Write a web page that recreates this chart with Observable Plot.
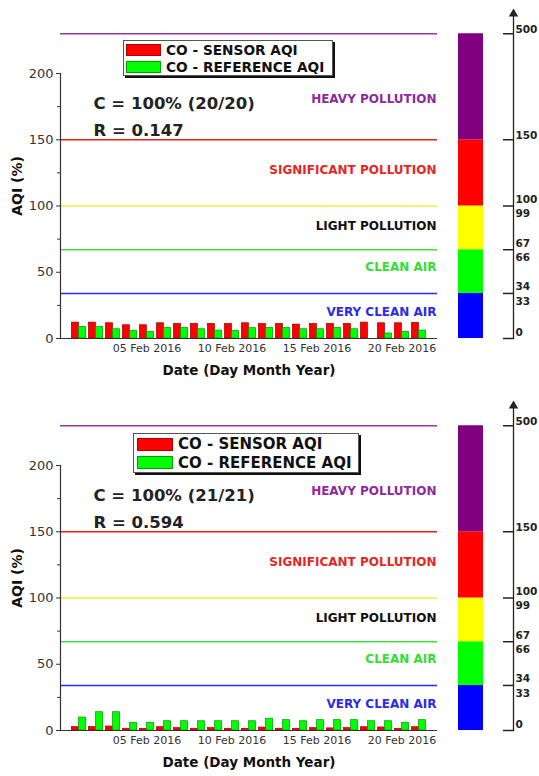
<!DOCTYPE html>
<html><head><meta charset="utf-8">
<script src="https://cdn.jsdelivr.net/npm/d3@7"></script>
<script src="https://cdn.jsdelivr.net/npm/@observablehq/plot@0.6"></script>
<style>
body{margin:0;background:#fff;font-family:"DejaVu Sans",sans-serif}
#root{position:relative;width:539px;height:776px;overflow:hidden;background:#fff}
.chart{position:absolute;left:0;width:539px;height:392px}
.main{position:absolute;left:0;top:0}
.side{position:absolute;left:450px;top:0}
.legend{position:absolute;box-sizing:border-box;background:#fff;border:1px solid #555;box-shadow:2px 2px 0 #111;font-weight:bold;color:#111}
.legend .row{display:flex;align-items:center;white-space:nowrap}
.legend .sw{display:inline-block;box-sizing:border-box}
</style></head><body><div id="root"></div>
<script>
// ---- data ----
const days = ["01 Feb 2016","02 Feb 2016","03 Feb 2016","04 Feb 2016","05 Feb 2016","06 Feb 2016","07 Feb 2016",
  "08 Feb 2016","09 Feb 2016","10 Feb 2016","11 Feb 2016","12 Feb 2016","13 Feb 2016","14 Feb 2016",
  "15 Feb 2016","16 Feb 2016","17 Feb 2016","18 Feb 2016","19 Feb 2016","20 Feb 2016","21 Feb 2016"];
const xTickLabels = ["05 Feb 2016","10 Feb 2016","15 Feb 2016","20 Feb 2016"];
const sensorAqi1 = [12.0,12.0,11.5,10.0,10.0,11.5,11.0,11.0,11.0,11.0,11.5,11.0,11.0,10.5,11.0,11.0,11.0,12.0,11.5,11.5,11.8];
const referenceAqi1 = [8.8,8.8,7.0,5.8,5.0,8.0,8.0,7.0,6.0,5.8,7.8,8.0,8.0,7.0,7.0,8.0,7.0,null,3.8,5.0,6.0];
const sensorAqi2 = [2.6,2.6,3.0,1.3,1.3,2.5,1.8,1.3,1.8,1.3,1.3,2.2,1.3,1.3,1.8,1.6,1.8,2.5,2.3,1.3,2.5];
const referenceAqi2 = [9.8,13.8,13.8,5.8,5.8,7.0,7.0,7.0,7.0,7.0,7.0,8.9,7.8,7.0,7.8,7.8,7.8,7.0,7.0,5.8,7.8];
const statsText1 = ["C = 100% (20/20)","R = 0.147"];
const statsText2 = ["C = 100% (21/21)","R = 0.594"];
const yTicks = [0,50,100,150,200];
const yMinorTicks = [25,75,125,175];
const bandLimits = [0,34,67,100,150,230];
const bandNames = ["VERY CLEAN AIR","CLEAN AIR","LIGHT POLLUTION","SIGNIFICANT POLLUTION","HEAVY POLLUTION"];
const bandLabelY = [20,54,85,127,181];
const bandFill = ["#0000ff","#00ff00","#ffff00","#ff0000","#800080"];
const bandLine = ["#2b2bf2","#3ce63c","#f0f03a","#ee1c1c","#9a34aa"];
const bandText = ["#2b2be8","#33dd33","#111111","#e62626","#8e2a9e"];
const aqiTickPos = [0,34,67,100,150,230];
const aqiLabelUpper = ["0","34","67","100","150","500"];
const aqiLabelLower = ["33","66","99"];
const legendLabels = ["CO - SENSOR AQI","CO - REFERENCE AQI"];
const legendColors = [["#ff0000","#b00000"],["#00ff00","#00a000"]];

// ---- drawing ----
const root = document.getElementById("root");
const FONT = "DejaVu Sans";

function drawChart(top, sensor, reference, stats, lg) {
  const W = 450, H = 392, mL = 60, mR = 13, mT = 73, mB = 54, pad = 0.525;
  const step = (W - mL - mR) / (days.length + 2 * pad);
  const sRows = days.map((day, i) => ({day, v: sensor[i]}));
  const rRows = days.map((day, i) => ({day, v: reference[i]})).filter(d => d.v != null);
  const levels = bandNames.map((name, i) => ({name, lo: bandLimits[i], hi: bandLimits[i + 1],
    fill: bandFill[i], line: bandLine[i], text: bandText[i], ly: bandLabelY[i]}));

  const wrap = document.createElement("div");
  wrap.className = "chart"; wrap.style.top = top + "px";
  root.appendChild(wrap);

  const main = Plot.plot({
    width: W, height: H, marginLeft: mL, marginRight: mR, marginTop: mT, marginBottom: mB,
    style: {fontFamily: FONT, fontSize: "11px", color: "#333", background: "transparent", overflow: "visible"},
    x: {type: "band", domain: days, paddingInner: 0, paddingOuter: pad},
    y: {domain: [0, 200]},
    color: {type: "identity"},
    marks: [
      Plot.ruleY(levels, {y: "hi", stroke: "line", strokeWidth: 1.6}),
      Plot.text(levels, {y: "ly", text: "name", fill: "text", frameAnchor: "right", textAnchor: "end",
        dx: -1, fontWeight: "bold", fontSize: 12}),
      Plot.barY(sRows, {x: "day", y: "v", fill: "#ff0000", stroke: "#a80000", strokeWidth: 0.7,
        insetLeft: 1.4, insetRight: step / 2}),
      Plot.barY(rRows, {x: "day", y: "v", fill: "#00ff00", stroke: "#009a00", strokeWidth: 0.7,
        insetLeft: step / 2, insetRight: 1.4}),
      Plot.ruleY([0], {stroke: "#333", strokeWidth: 1.2}),
      Plot.frame({anchor: "left", stroke: "#333", strokeWidth: 1.2}),
      Plot.axisY(yTicks, {tickSize: 4, tickPadding: 3, fontSize: 13, label: null, fill: "#333"}),
      Plot.axisY(yMinorTicks, {tickSize: 3, tickFormat: () => "", label: null}),
      Plot.axisX(xTickLabels, {tickSize: 0, tickPadding: 6, fontSize: 11, label: null, fill: "#333"}),
      Plot.text([stats.join("\n")], {text: d => d, frameAnchor: "top-left", dx: 33, dy: 40.5,
        lineAnchor: "middle", lineHeight: 1.64, fontSize: 16.5, fontWeight: "bold", fill: "#222"}),
      Plot.text(["AQI (%)"], {text: d => d, frameAnchor: "left", textAnchor: "middle", lineAnchor: "middle",
        rotate: -90, dx: -43, dy: -20, fontSize: 14, fontWeight: "bold", fill: "#111"}),
      Plot.text(["Date (Day Month Year)"], {text: d => d, frameAnchor: "bottom", lineAnchor: "middle",
        dy: 32, fontSize: 13.5, fontWeight: "bold", fill: "#111"})
    ]
  });
  main.classList.add("main");
  wrap.appendChild(main);

  const upperRows = aqiTickPos.map((v, i) => ({v, label: aqiLabelUpper[i]}));
  const lowerRows = aqiLabelLower.map((label, i) => ({v: aqiTickPos[i + 1], label}));
  const side = Plot.plot({
    width: 89, height: H, marginLeft: 8, marginRight: 56, marginTop: mT, marginBottom: mB,
    style: {fontFamily: FONT, fontSize: "10.5px", color: "#222", background: "transparent", overflow: "visible"},
    y: {domain: [0, 200], axis: null},
    color: {type: "identity"},
    marks: [
      Plot.rectY(levels, {y1: "lo", y2: "hi", fill: "fill"}),
      Plot.frame({anchor: "right", dx: 30, insetTop: -60, stroke: "#222", strokeWidth: 1.3}),
      Plot.dot([0], {frameAnchor: "top-right", dx: 30, dy: -59.6, symbol: "triangle", r: 3.5, fill: "#222", stroke: "none"}),
      Plot.tickY(aqiTickPos, {y: d => d, insetLeft: 15, dx: 30, stroke: "#222", strokeWidth: 1.5}),
      Plot.text(upperRows.slice(0, 4), {y: "v", text: "label", frameAnchor: "right", textAnchor: "start",
        lineAnchor: "bottom", dx: 32, dy: -3, fontWeight: "bold", fill: "#222"}),
      Plot.text(upperRows.slice(4), {y: "v", text: "label", frameAnchor: "right", textAnchor: "start",
        lineAnchor: "middle", dx: 32, dy: -4, fontWeight: "bold", fill: "#222"}),
      Plot.text(lowerRows, {y: "v", text: "label", frameAnchor: "right", textAnchor: "start",
        lineAnchor: "top", dx: 32, dy: 4, fontWeight: "bold", fill: "#222"})
    ]
  });
  side.classList.add("side");
  wrap.appendChild(side);

  // legend
  const box = document.createElement("div");
  box.className = "legend";
  Object.assign(box.style, {left: lg.left + "px", top: lg.top + "px", width: lg.width + "px",
    height: lg.height + "px", padding: lg.pad, fontSize: lg.font + "px"});
  legendLabels.forEach((label, i) => {
    const row = document.createElement("div");
    row.className = "row"; row.style.height = lg.rowH + "px";
    const sw = document.createElement("span");
    sw.className = "sw";
    Object.assign(sw.style, {width: lg.swW + "px", height: lg.swH + "px", background: legendColors[i][0],
      border: "1px solid " + legendColors[i][1], marginRight: lg.gap + "px"});
    const tx = document.createElement("span");
    tx.textContent = label;
    row.appendChild(sw); row.appendChild(tx);
    box.appendChild(row);
  });
  wrap.appendChild(box);
}

drawChart(0, sensorAqi1, referenceAqi1, statsText1,
  {left: 123, top: 40, width: 210, height: 36, pad: "1px 2px", font: 13.7, rowH: 16.5, swW: 35, swH: 12, gap: 5});
drawChart(392, sensorAqi2, referenceAqi2, statsText2,
  {left: 133, top: 41, width: 226, height: 40, pad: "1px 3px", font: 15, rowH: 18.5, swW: 36, swH: 13, gap: 5});
</script>
</body></html>
